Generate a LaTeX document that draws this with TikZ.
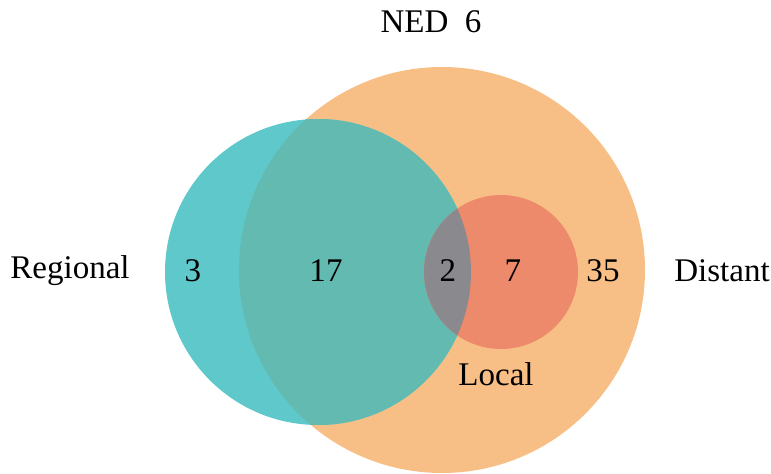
\documentclass[tikz,border=0pt]{standalone}
\usepackage{fontspec}
\setmainfont{Liberation Serif}
\usepackage{tikz}
\usetikzlibrary{positioning}
\definecolor{distantorange}{RGB}{247,191,133}
\definecolor{regionalteal}{RGB}{94,200,202}
\definecolor{overlapteal}{RGB}{98,186,177}
\definecolor{localred}{RGB}{238,138,108}
\definecolor{overlapgray}{RGB}{138,137,141}

\begin{document}
\begin{tikzpicture}[x=0.025cm,y=-0.025cm,
    lbl/.style={font=\fontsize{23.5}{26}\selectfont, inner sep=0pt}]
  \useasboundingbox (0,0) rectangle (771,474);

  % ── Distant set (large) ──
  \fill[distantorange] (442,270) circle[radius=203];

  % ── Regional set ──
  \fill[regionalteal] (318,272) circle[radius=153];
  \begin{scope}
    \clip (442,270) circle[radius=203];
    \fill[overlapteal] (318,272) circle[radius=153];
  \end{scope}

  % ── Local set ──
  \fill[localred] (501,272) circle[radius=77];
  \begin{scope}
    \clip (318,272) circle[radius=153];
    \fill[overlapgray] (501,272) circle[radius=77];
  \end{scope}

  % ── Counts ──
  \node[lbl] (nregional) at (193,271) {3};
  \node[lbl] (nboth)     at (326,271) {17};
  \node[lbl] (nall)      at (448,271) {2};
  \node[lbl] (nlocal)    at (513,271) {7};
  \node[lbl] (ndistant)  at (603,271) {35};

  % ── Set labels ──
  \node[lbl] (regional) at (70,271)  {Regional};
  \node[lbl] (distant)  at (722,271) {Distant};
  \node[lbl] (local)    at (496,374) {Local};
  \node[lbl] (ned)      at (431,22)  {NED\ \ 6};
\end{tikzpicture}
\end{document}
